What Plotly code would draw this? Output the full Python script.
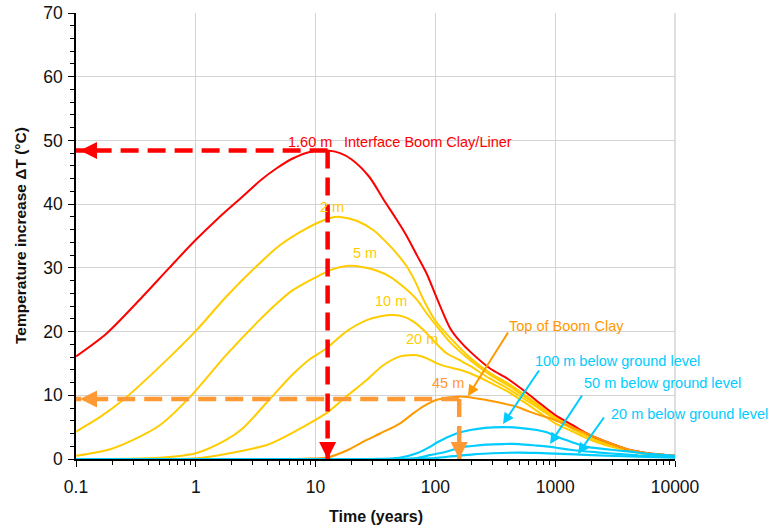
import numpy as np
import plotly.graph_objects as go

# ---------------- data ----------------
t_red = [0.1, 0.18, 0.36, 0.6, 1, 1.5, 2.46, 3.5, 4.7, 6.5, 8.9, 12.6, 16, 20, 28, 37, 47, 58, 70, 85,
         103, 133, 160, 195, 286, 400, 543, 750, 1000, 1400, 1842, 2500, 3500, 4230, 6000, 10000]
v_red = [16.1, 19.7, 25.5, 30.0, 34.4, 37.6, 41.2, 43.8, 45.6, 47.2, 48.2, 48.4, 48.0, 47.0, 44.3, 40.7,
         37.7, 34.9, 32.0, 29.0, 25.2, 20.5, 18.5, 16.85, 14.2, 12.6, 10.8, 8.7, 6.9, 5.3, 4.0, 2.9,
         1.9, 1.4, 0.9, 0.5]

t_2m = [0.1, 0.159, 0.248, 0.5, 1, 1.8, 3.4, 5, 7.4, 10.2, 13, 16, 22, 30.4, 40, 50.8, 57.7, 68, 79.5, 100,
        133, 195, 286, 400, 543, 750, 1000, 1400, 1842, 2500, 3500, 4230, 6000, 10000]
v_2m = [4.3, 6.6, 9.3, 14.5, 20.1, 25.5, 30.7, 33.5, 35.6, 37.0, 37.8, 38.0, 37.4, 35.9, 33.8, 31.6,
        30.2, 27.8, 25.0, 21.7, 19.0, 15.9, 13.5, 11.9, 10.2, 8.3, 6.6, 5.0, 3.8, 2.7, 1.8, 1.35, 0.85, 0.5]

t_5m = [0.1, 0.19, 0.3, 0.5, 0.88, 1.79, 3.4, 5, 6.45, 10.2, 14, 18.2, 25, 33, 41.9, 55, 70, 85, 103, 133,
        195, 286, 400, 543, 750, 1000, 1400, 1842, 2500, 3500, 4230, 6000, 10000]
v_5m = [0.5, 1.5, 3.0, 5.3, 9.6, 16.3, 21.8, 24.8, 26.5, 28.6, 29.8, 30.3, 30.1, 29.5, 28.6, 26.9, 25.0,
        22.8, 20.8, 18.3, 15.5, 13.2, 11.6, 9.9, 8.1, 6.4, 4.9, 3.7, 2.6, 1.75, 1.3, 0.8, 0.45]

t_10m = [0.1, 0.5, 1, 1.79, 2.46, 4.1, 6.45, 9, 12.2, 18, 26.7, 35, 44.7, 55, 65, 79.5, 103, 124, 160,
         195, 286, 400, 543, 750, 1000, 1400, 1842, 2500, 3500, 4230, 6000, 10000]
v_10m = [0.0, 0.2, 0.9, 3.0, 4.8, 9.3, 13.3, 15.7, 17.3, 20.0, 21.8, 22.4, 22.6, 22.3, 21.6, 20.25, 18.0,
         16.6, 15.5, 14.6, 12.6, 11.1, 9.5, 7.8, 6.2, 4.7, 3.6, 2.5, 1.7, 1.25, 0.8, 0.45]

t_20m = [0.1, 1, 2.46, 3.92, 4.68, 7.8, 12.3, 18, 26.7, 36, 50.8, 60, 70, 85, 103, 124, 160, 195, 286,
         400, 543, 750, 1000, 1400, 1842, 2500, 3500, 4230, 6000, 10000]
v_20m = [0.0, 0.1, 1.3, 2.2, 2.8, 5.0, 7.2, 9.8, 12.4, 14.6, 16.1, 16.3, 16.3, 15.8, 15.0, 14.5, 14.0,
         13.45, 12.0, 10.6, 9.0, 7.2, 5.6, 4.3, 3.25, 2.3, 1.55, 1.2, 0.75, 0.45]

t_45m = [0.1, 5, 8, 12.3, 18, 26.7, 34.5, 50.8, 65.6, 80, 103, 141.6, 183, 260, 370, 479, 616, 800, 1000,
         1400, 1842, 2500, 3490, 4230, 6000, 10000]
v_45m = [0.0, 0.0, 0.05, 0.2, 1.3, 3.0, 4.0, 5.6, 7.2, 8.3, 9.3, 9.75, 9.75, 9.3, 8.7, 8.2, 7.4, 6.7, 6.1,
         4.9, 4.0, 2.9, 1.9, 1.4, 0.9, 0.5]

t_g100 = [0.1, 30, 50, 70, 90, 103, 150, 195, 260, 370, 500, 703, 850, 1000, 1400, 1842, 2500, 3500,
          4230, 6000, 10000]
v_g100 = [0.0, 0.0, 0.2, 0.9, 1.9, 2.6, 4.0, 4.55, 4.9, 5.0, 4.9, 4.55, 4.2, 3.6, 2.6, 1.9, 1.6, 1.3,
          1.15, 0.8, 0.5]

t_g50 = [0.1, 50, 70, 90, 120, 171, 195, 260, 370, 500, 703, 1000, 1334, 2228, 3500, 5000, 10000]
v_g50 = [0.0, 0.0, 0.15, 0.6, 1.1, 1.9, 2.0, 2.25, 2.35, 2.35, 2.1, 1.8, 1.45, 1.05, 0.75, 0.55, 0.3]

t_g20 = [0.1, 60, 80, 100, 150, 200, 300, 500, 703, 1000, 2000, 5000, 10000]
v_g20 = [0.0, 0.0, 0.05, 0.15, 0.5, 0.7, 0.9, 1.0, 0.95, 0.85, 0.6, 0.35, 0.2]

# peak markers (guide lines)
red_peak_time, red_peak_temp = 12.6, 48.4
orange_peak_time, orange_peak_temp = 158, 9.4

x_ticks = [0.1, 1, 10, 100, 1000, 10000]
x_ticktext = ["0.1", "1", "10", "100", "1000", "10000"]

RED = "#FF0000"
YEL = "#FFCC00"
ORG = "#FF9900"
ORG_D = "#FF9933"
CYAN = "#00CCFF"
FONT = "Liberation Sans, Arial, sans-serif"
GRID = "#D4D4D4"

fig = go.Figure()


def add_line(t, v, color, width=2.0):
    fig.add_trace(go.Scatter(x=t, y=v, mode="lines",
                             line=dict(color=color, width=width, shape="spline", smoothing=0.8),
                             hoverinfo="skip", showlegend=False))


add_line(t_20m, v_20m, YEL)
add_line(t_10m, v_10m, YEL)
add_line(t_5m, v_5m, YEL)
add_line(t_2m, v_2m, YEL)
add_line(t_red, v_red, RED)
add_line(t_45m, v_45m, ORG)
add_line(t_g20, v_g20, CYAN, 2.2)
add_line(t_g50, v_g50, CYAN, 2.2)
add_line(t_g100, v_g100, CYAN, 2.2)

# dashed guide lines
DASH = "18px,9px"
fig.add_trace(go.Scatter(x=[red_peak_time, x_ticks[0]], y=[red_peak_temp, red_peak_temp], mode="lines",
                         line=dict(color=RED, width=4.5, dash=DASH), hoverinfo="skip", showlegend=False))
fig.add_trace(go.Scatter(x=[red_peak_time, red_peak_time], y=[red_peak_temp, 0], mode="lines",
                         line=dict(color=RED, width=4.5, dash=DASH), hoverinfo="skip", showlegend=False))
fig.add_trace(go.Scatter(x=[orange_peak_time, x_ticks[0]], y=[orange_peak_temp, orange_peak_temp], mode="lines",
                         line=dict(color=ORG_D, width=4.5, dash=DASH), hoverinfo="skip", showlegend=False))
fig.add_trace(go.Scatter(x=[orange_peak_time, orange_peak_time], y=[orange_peak_temp, 0], mode="lines",
                         line=dict(color=ORG_D, width=4.5, dash=DASH), hoverinfo="skip", showlegend=False))

annotations = []


def head(x, y, ax, ay, color, standoff=0):
    annotations.append(dict(x=np.log10(x), y=y, xref="x", yref="y", ax=ax, ay=ay, text="",
                            showarrow=True, arrowhead=2, arrowwidth=4, arrowsize=0.85,
                            arrowcolor=color, standoff=standoff))


head(x_ticks[0], red_peak_temp, 16, 0, RED, standoff=4)
head(red_peak_time, 0, 0, -16, RED)
head(x_ticks[0], orange_peak_temp, 16, 0, ORG_D, standoff=4)
head(orange_peak_time, 0, 0, -16, ORG_D)

# plot area in pixels
W, H = 771, 528
L, R, T, B = 76, 675, 13, 459
LABEL_SIZE = 14.5


def px(xp, yp):
    return (xp - L) / (R - L), (B - yp) / (B - T)


def label(text, xp, yp, color):
    x, y = px(xp, yp)
    annotations.append(dict(x=x, y=y, xref="paper", yref="paper", text=text, showarrow=False,
                            xanchor="left", yanchor="middle",
                            font=dict(family=FONT, size=LABEL_SIZE, color=color)))


label("1.60 m", 286, 142, RED)
label("Interface Boom Clay/Liner", 342, 142, RED)
label("2 m", 318, 207, YEL)
label("5 m", 351, 253, YEL)
label("10 m", 373, 301, YEL)
label("20 m", 404, 339, YEL)
label("45 m", 430, 383, ORG_D)
label("Top of Boom Clay", 507, 326, ORG)
label("100 m below ground level", 533, 361, CYAN)
label("50 m below ground level", 582, 383, CYAN)
label("20 m below ground level", 609, 414, CYAN)


def pointer(tail, tip, color):
    x, y = px(*tip)
    annotations.append(dict(x=x, y=y, xref="paper", yref="paper", text="", showarrow=True,
                            ax=tail[0] - tip[0], ay=tail[1] - tip[1],
                            arrowhead=2, arrowwidth=2, arrowsize=1.1, arrowcolor=color))


pointer((509, 331), (468, 396), ORG)
pointer((540, 369), (503, 424), CYAN)
pointer((583, 394), (550, 444), CYAN)
pointer((605, 416), (578, 454), CYAN)

# axis titles placed as paper annotations
xt, yt = px(376, 516)
annotations.append(dict(x=xt, y=yt, xref="paper", yref="paper", text="<b>Time (years)</b>",
                        showarrow=False, xanchor="center", yanchor="middle",
                        font=dict(family=FONT, size=16, color="#111111")))
xt, yt = px(20, 236)
annotations.append(dict(x=xt, y=yt, xref="paper", yref="paper", text="<b>Temperature increase ΔT (°C)</b>",
                        showarrow=False, xanchor="center", yanchor="middle", textangle=-90,
                        font=dict(family=FONT, size=15.5, color="#111111")))

fig.update_layout(
    width=W, height=H,
    margin=dict(l=L, r=W - R, t=T, b=H - B, autoexpand=False),
    paper_bgcolor="white", plot_bgcolor="white",
    showlegend=False,
    font=dict(family=FONT, color="#111111"),
    annotations=annotations,
    shapes=[dict(type="line", xref="paper", yref="paper", x0=1, x1=1, y0=0, y1=1,
                 line=dict(color=GRID, width=1.5), layer="below")],
    xaxis=dict(type="log", range=[-1, 4], tickvals=x_ticks, ticktext=x_ticktext, automargin=False,
               ticks="outside", ticklen=6, tickwidth=1, tickcolor="black", ticklabelstandoff=5,
               showline=True, linecolor="black", linewidth=1.5, ticklabeloverflow="allow",
               showgrid=True, gridcolor=GRID, gridwidth=1, zeroline=False,
               tickfont=dict(family=FONT, size=17.5, color="#111111"),
               minor=dict(ticks="outside", ticklen=4, tickcolor="black", dtick="D1", showgrid=False)),
    yaxis=dict(range=[0, 70], dtick=10, tick0=0, automargin=False,
               ticks="outside", ticklen=6, tickwidth=1, tickcolor="black", ticklabelstandoff=2,
               showline=True, linecolor="black", linewidth=1.5, ticklabeloverflow="allow",
               showgrid=True, gridcolor=GRID, gridwidth=1, zeroline=False,
               tickfont=dict(family=FONT, size=17.5, color="#111111"),
               minor=dict(ticks="outside", ticklen=4, tickcolor="black", dtick=2, showgrid=False)),
)

fig.write_html("out.html", config={"displayModeBar": False},
               post_script="document.body.style.margin='0';")
